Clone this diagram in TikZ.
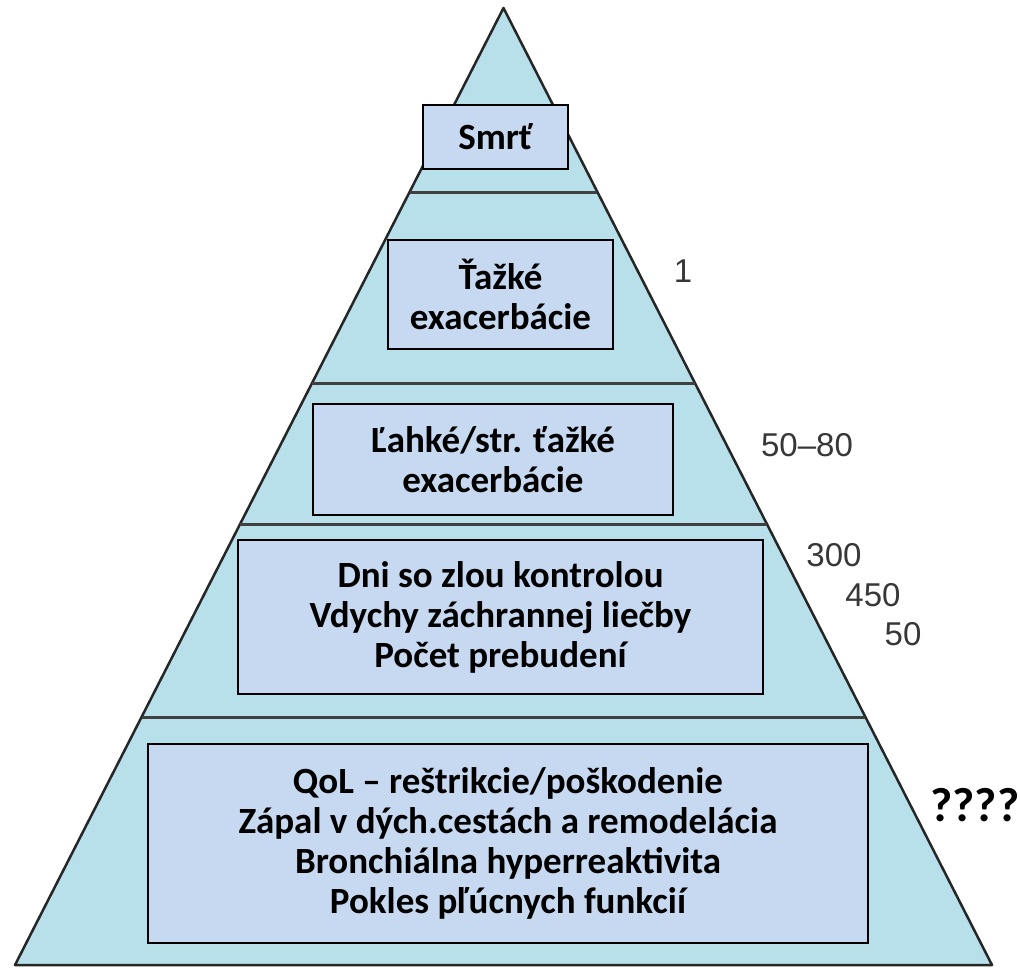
\documentclass[tikz,border=0pt]{standalone}
\usepackage{fontspec}
\setmainfont{Carlito}
\newfontfamily\numfont{Liberation Sans}
\definecolor{pyrblue}{RGB}{183,224,235}
\definecolor{boxblue}{RGB}{198,217,240}
\definecolor{numgray}{RGB}{55,55,55}
\begin{document}
\begin{tikzpicture}[x=1pt, y=-1pt,
  tier/.style={draw=black, line width=1.5pt, fill=boxblue, align=center, inner sep=0pt,
    font=\bfseries\fontsize{37}{40}\selectfont},
  cnt/.style={text=numgray, inner sep=0pt, font=\numfont\fontsize{33}{40}\selectfont},
  rung/.style={draw=black!75, line width=3pt}]
\useasboundingbox (0,0) rectangle (1020,967);
% pyramid
\coordinate (top) at (503.5,8);
\coordinate (bl) at (15,965);
\coordinate (br) at (992,965);
\draw[fill=pyrblue, draw=black!85, line width=2.5pt, line join=round] (top) -- (br) -- (bl) -- cycle;
% dividers
\coordinate (r1l) at (409.7,192); \coordinate (r1r) at (597.3,192);
\coordinate (r2l) at (312.3,383); \coordinate (r2r) at (694.7,383);
\coordinate (r3l) at (240.4,524); \coordinate (r3r) at (766.6,524);
\coordinate (r4l) at (142,717);   \coordinate (r4r) at (865,717);
\draw[rung] (r1l) -- (r1r);
\draw[rung] (r2l) -- (r2r);
\draw[rung] (r3l) -- (r3r);
\draw[rung] (r4l) -- (r4r);
% boxes
\node[tier, minimum width=145, minimum height=64] (b0) at (495.5,137) {Smrť};
\node[tier, minimum width=225, minimum height=109] (b1) at (500.5,294.5) {Ťažké\\exacerbácie};
\node[tier, minimum width=360, minimum height=111] (b2) at (493,459.5) {Ľahké/str. ťažké\\exacerbácie};
\node[tier, minimum width=525, minimum height=154] (b3) at (500.5,617) {Dni so zlou kontrolou\\Vdychy záchrannej liečby\\Počet prebudení};
\node[tier, minimum width=720, minimum height=199] (b4) at (508,843.5) {QoL – reštrikcie/poškodenie\\Zápal v dých.cestách a remodelácia\\Bronchiálna hyperreaktivita\\Pokles pľúcnych funkcií};
% counts
\node[cnt] (n1) at (683,271) {1};
\node[cnt] (n2) at (807,445) {50–80};
\node[cnt] (n3) at (834,555) {300};
\node[cnt] (n4) at (873,595) {450};
\node[cnt] (n5) at (903,634) {50};
\node[inner sep=0pt, font=\bfseries\fontsize{48}{50}\selectfont] (q) at (975,805) {????};
\end{tikzpicture}
\end{document}
